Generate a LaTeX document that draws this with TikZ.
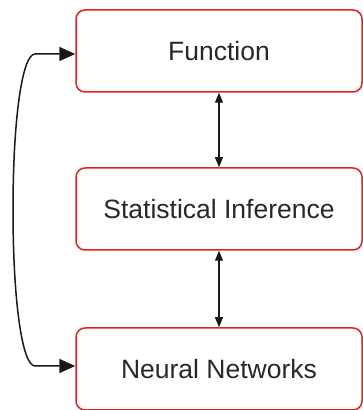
\documentclass[tikz,border=0pt]{standalone}
\usepackage{fontspec}
\setmainfont{Liberation Sans}
\usetikzlibrary{arrows.meta}
\definecolor{boxred}{RGB}{228,32,32}
\definecolor{txt}{RGB}{40,40,40}
\tikzset{
  box/.style={draw=boxred, line width=1.5pt, rounded corners=9pt, minimum width=286pt, minimum height=82pt, inner sep=0pt, text=txt, font=\fontsize{26.5}{30}\selectfont},
  link/.style={line width=1.2pt, draw=black!90, {Triangle[length=10pt,width=8pt]}-{Triangle[length=10pt,width=8pt]}},
  loop/.style={line width=1.5pt, draw=black!90, {Triangle[length=16pt,width=14pt]}-{Triangle[length=16pt,width=14pt]}}
}
\begin{document}
\begin{tikzpicture}[x=1pt,y=1pt]
\useasboundingbox (0,0) rectangle (362,410);
\node[box] (f) at (219,359) {Function};
\node[box] (s) at (219,201) {Statistical Inference};
\node[box] (n) at (219,41) {Neural Networks};
\draw[link] (f) -- (s);
\draw[link] (s) -- (n);
\coordinate (a) at (35,356);
\coordinate (b) at (13,200);
\coordinate (c) at (35,44);
\draw[loop] (f.west |- a) -- (a) .. controls (22,356) and (13,290) .. (b) .. controls (13,110) and (22,44) .. (c) -- (n.west |- c);
\end{tikzpicture}
\end{document}
